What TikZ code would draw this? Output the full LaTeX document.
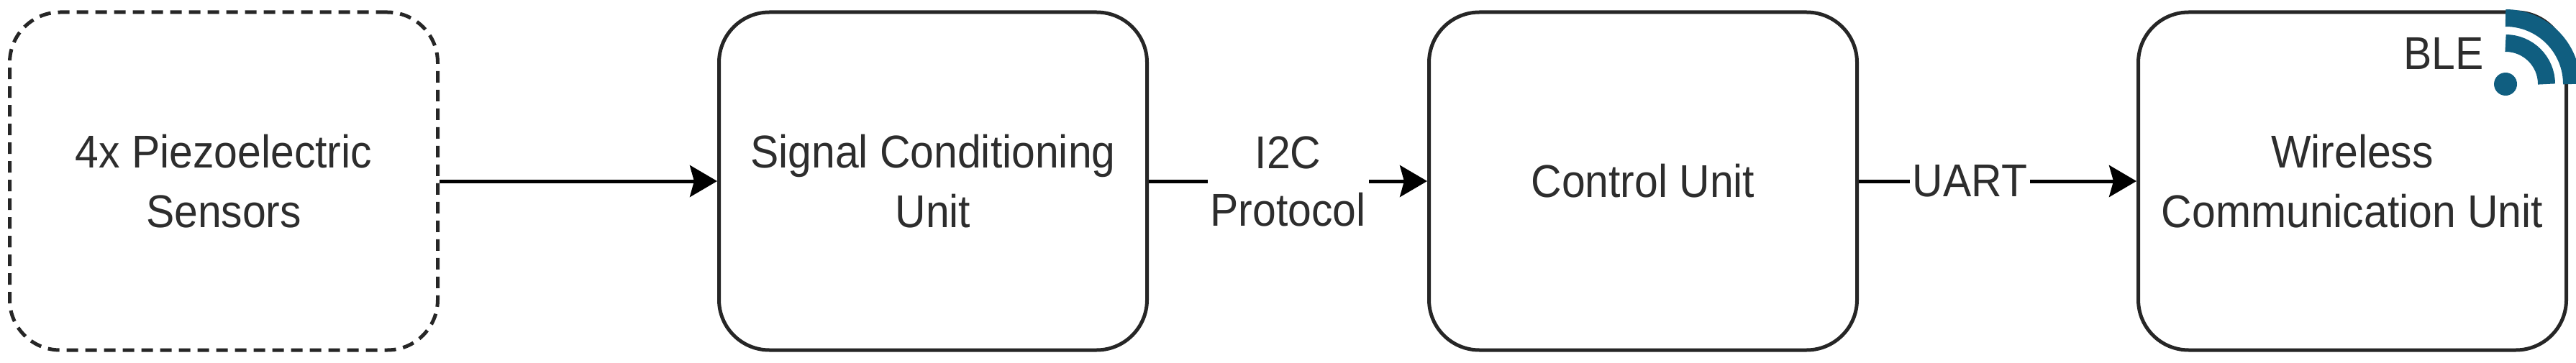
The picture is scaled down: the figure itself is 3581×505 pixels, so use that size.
\documentclass[tikz,border=0pt]{standalone}
\usepackage{fontspec}
\setmainfont[FakeStretch=0.92]{Liberation Sans}
\usetikzlibrary{arrows.meta}
\definecolor{txt}{RGB}{45,45,45}
\definecolor{ble}{RGB}{16,94,128}
\begin{document}
\begin{tikzpicture}[x=1pt,y=-1pt,
  unit/.style={draw=black!85,line width=5pt,rounded corners=70pt,minimum width=595pt,minimum height=470pt,align=center,text=txt,font=\fontsize{64}{83}\selectfont},
  conn/.style={line width=5pt,-{Stealth[length=38pt,width=44pt,inset=6pt]}},
  lbl/.style={fill=white,text=txt,align=center,font=\fontsize{64}{80}\selectfont,inner sep=4pt}]
\useasboundingbox (0,0) rectangle (3581,505);
\node[unit,dashed,dash pattern=on 16pt off 10pt] (s) at (311,252) {4x Piezoelectric\\Sensors};
\node[unit] (c) at (1297,252) {Signal Conditioning\\Unit};
\node[unit] (m) at (2284,252) {Control Unit};
\node[unit] (w) at (3270,252) {Wireless\\Communication Unit};
\draw[conn] (s) -- (c);
\draw[conn] (c) -- node[lbl] {I2C\\Protocol} (m);
\draw[conn] (m) -- node[lbl,pos=0.4] {UART} (w);
\node[text=txt,font=\fontsize{64}{80}\selectfont,anchor=base] (b) at (3397,97) {BLE};
\fill[ble] (3483,117) circle (16);
\draw[ble,line width=24pt] (3483,60) arc[start angle=-90,end angle=0,radius=57];
\draw[ble,line width=24pt] (3483,25) arc[start angle=-90,end angle=0,radius=92];
\end{tikzpicture}
\end{document}
